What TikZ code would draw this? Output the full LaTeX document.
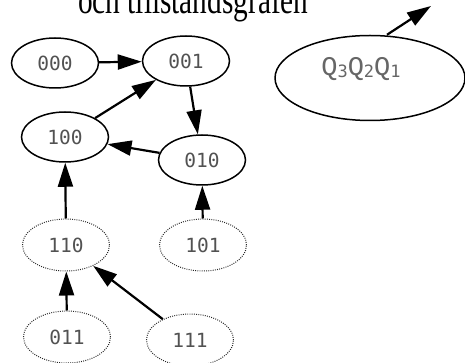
\documentclass[tikz,border=0pt]{standalone}
\usepackage{fontspec}
\setmainfont{Liberation Serif}
\newfontfamily\statefont{DejaVu Sans Mono}
\newfontfamily\keyfont{Liberation Mono}
\usepackage{tikz}
\usetikzlibrary{arrows.meta,shapes.geometric}

\newcommand{\bitsub}[1]{\raisebox{-2.5pt}{\statefont\fontsize{17}{17}\selectfont #1}}

\begin{document}
\begin{tikzpicture}[x=1pt, y=-1pt, >={Triangle[length=24pt,width=15pt]},
    state/.style={ellipse, draw, line width=1.5pt, minimum width=87pt, minimum height=50pt,
      inner sep=0pt, text=black!68, font=\statefont\fontsize{19.5}{19.5}\selectfont},
    ghost/.style={state, draw=black!85, line width=1pt, dash pattern=on 0.9pt off 1.3pt, minimum height=52pt},
    trans/.style={->, line width=2.2pt}]
    \useasboundingbox (0,0) rectangle (465,363);
    \clip (0,0) rectangle (465,363);

    % Heading, cut off at the top edge
    \node[anchor=base west, inner sep=0pt, font=\fontsize{29.3}{30}\selectfont] (title) at (78,13.5)
      {\scalebox{1}[1.35]{och tillståndsgrafen}};

    % States of the counter
    \node[state] (s000) at (55,63) {000};
    \node[state] (s001) at (186,61) {001};
    \node[state] (s100) at (65,137) {100};
    \node[state] (s010) at (202,160) {010};

    % Unused states
    \node[ghost] (s110) at (66,245) {110};
    \node[ghost] (s101) at (203,245) {101};
    \node[ghost] (s011) at (67,337) {011};
    \node[ghost] (s111) at (190,340) {111};

    % Legend for the bit order
    \node[ellipse, draw, line width=1.5pt, minimum width=190pt, minimum height=85pt, inner sep=0pt] (key) at (370,78) {};
    \node[text=black!60, font=\keyfont\fontsize{27}{27}\selectfont, inner sep=0pt] (keytext) at (361,69)
      {Q\bitsub{3}Q\bitsub{2}Q\bitsub{1}};
    \coordinate (keytip) at (431,6);

    % Transitions
    \draw[trans] (s000) -- (s001);
    \draw[trans] (s001) -- (s010);
    \draw[trans] (s010) -- (s100);
    \draw[trans] (s100) -- (s001);
    \draw[trans] (s110) -- (s100);
    \draw[trans] (s101) -- (s010);
    \draw[trans] (s011) -- (s110);
    \draw[trans] (s111) -- (s110);
    \draw[trans] (key.north) ++(17,0) -- (keytip);
\end{tikzpicture}
\end{document}
